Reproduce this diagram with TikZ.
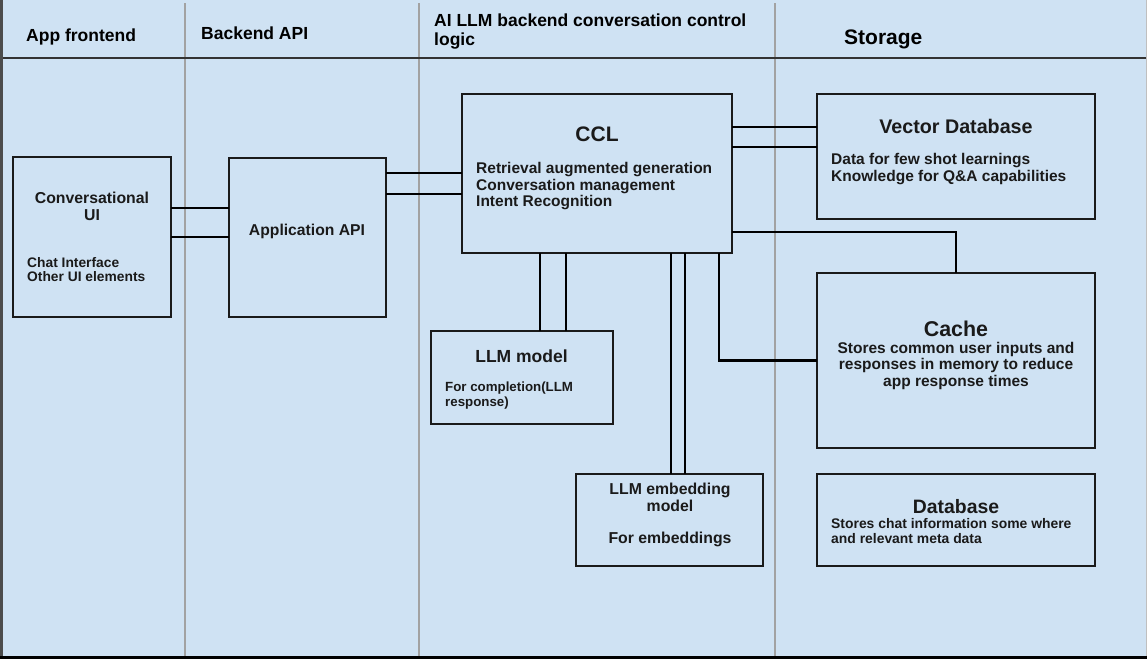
\documentclass[tikz,border=0pt]{standalone}
\usepackage{fontspec}
\setmainfont{Liberation Sans}
\usepackage{xcolor}
\usetikzlibrary{positioning,calc}
\definecolor{paper}{HTML}{CFE2F3}
\definecolor{lane}{HTML}{A2A2A2}
\definecolor{ink}{HTML}{1A1A1A}

\begin{document}
\begin{tikzpicture}[x=1pt, y=-1pt,
  box/.style={draw=ink, line width=1.3pt, fill=paper, inner sep=0pt, outer sep=0pt},
  wire/.style={draw=black, line width=2.4pt},
  hdr/.style={anchor=west, align=left, inner sep=0pt, text=black, font=\fontsize{17.5}{18.5}\selectfont\bfseries},
  ttl/.style={align=center, inner sep=0pt, text=ink},
  txt/.style={anchor=west, align=left, inner sep=0pt, text=ink}]
% page, lanes and header rule
\fill[paper] (0,0) rectangle (1147,659);
\useasboundingbox (0,0) rectangle (1147,659);
\foreach \x in {185,419,775} \draw[lane, line width=1.4pt] (\x,3) -- (\x,657);
\draw[black!80, line width=2pt] (3,58) -- (1147,58);
\draw[black!70, line width=3pt] (1.5,0) -- (1.5,659);
\draw[black!25, line width=1pt] (1146,0) -- (1146,659);
\draw[black, line width=3pt] (0,657.5) -- (1147,657.5);
% lane headers
\node[hdr] (hfront) at (26,37) {App frontend};
\node[hdr] (hback) at (201,33) {Backend API};
\node[hdr] (hllm) at (434,31.5) {AI LLM backend conversation control\\logic};
\node[hdr, font=\fontsize{21}{22}\selectfont\bfseries] (hstore) at (844,39) {Storage};
% boxes
\node[box, minimum width=158pt, minimum height=160pt] (ui) at (92,237) {};
\node[box, minimum width=157pt, minimum height=159pt] (app) at (307.5,237.5) {};
\node[box, minimum width=270pt, minimum height=159pt] (ccl) at (597,173.5) {};
\node[box, minimum width=278pt, minimum height=125pt] (vdb) at (956,156.5) {};
\node[box, minimum width=278pt, minimum height=175pt] (cache) at (956,360.5) {};
\node[box, minimum width=182pt, minimum height=93pt] (llm) at (522,377.5) {};
\node[box, minimum width=187pt, minimum height=92pt] (emb) at (669.5,520) {};
\node[box, minimum width=278pt, minimum height=92pt] (db) at (956,520) {};
% box texts
\node[ttl, font=\fontsize{15.8}{17}\selectfont\bfseries] (uiT) at (92,206.5) {Conversational\\UI};
\node[txt, font=\fontsize{13.8}{14}\selectfont\bfseries] (uiB) at (27,270) {Chat Interface\\Other UI elements};
\node[ttl, font=\fontsize{15.7}{17}\selectfont\bfseries] (appT) at (307,231) {Application API};
\node[ttl, font=\fontsize{21}{22}\selectfont\bfseries] (cclT) at (597,134) {CCL};
\node[txt, font=\fontsize{15.5}{16.5}\selectfont\bfseries] (cclB) at (476,186.5) {Retrieval augmented generation\\Conversation management\\Intent Recognition};
\node[ttl, font=\fontsize{19.7}{21}\selectfont\bfseries] (vdbT) at (956,126) {Vector Database};
\node[txt, font=\fontsize{15.5}{16.5}\selectfont\bfseries] (vdbB) at (831,169) {Data for few shot learnings\\Knowledge for Q\&A capabilities};
\node[ttl, font=\fontsize{21.4}{22}\selectfont\bfseries] (cacheT) at (956,329) {Cache};
\node[ttl, font=\fontsize{15.5}{16.5}\selectfont\bfseries] (cacheB) at (956,365.5) {Stores common user inputs and\\responses in memory to reduce\\app response times};
\node[ttl, font=\fontsize{17.5}{18}\selectfont\bfseries] (llmT) at (521.5,356) {LLM model};
\node[txt, font=\fontsize{13.3}{15}\selectfont\bfseries] (llmB) at (445,395.5) {For completion(LLM\\response)};
\node[ttl, font=\fontsize{15.8}{17}\selectfont\bfseries] (embT) at (670,497.5) {LLM embedding\\model};
\node[ttl, font=\fontsize{15.8}{17}\selectfont\bfseries] (embB) at (670,539) {For embeddings};
\node[ttl, font=\fontsize{19.4}{20}\selectfont\bfseries] (dbT) at (956,507) {Database};
\node[txt, font=\fontsize{13.9}{15}\selectfont\bfseries] (dbB) at (831,531.5) {Stores chat information some where\\and relevant meta data};
% connectors
\draw[wire] ([yshift=29pt]ui.east) -- ([yshift=29pt]ui.east -| app.west);
\draw[wire] (ui.east) -- (ui.east -| app.west);
\draw[wire] ([yshift=64.5pt]app.east) -- ([yshift=64.5pt]app.east -| ccl.west);
\draw[wire] ([yshift=43.5pt]app.east) -- ([yshift=43.5pt]app.east -| ccl.west);
\draw[wire] ([yshift=46.5pt]ccl.east) -- ([yshift=46.5pt]ccl.east -| vdb.west);
\draw[wire] ([yshift=26.5pt]ccl.east) -- ([yshift=26.5pt]ccl.east -| vdb.west);
\draw[wire] ([yshift=-58.5pt]ccl.east) -| (cache.north);
\draw[wire] ([xshift=122pt]ccl.south) |- (cache.west);
\draw[wire] ([xshift=18pt]llm.north) -- ([xshift=18pt]llm.north |- ccl.south);
\draw[wire] ([xshift=44pt]llm.north) -- ([xshift=44pt]llm.north |- ccl.south);
\draw[wire] ([xshift=1.5pt]emb.north) -- ([xshift=1.5pt]emb.north |- ccl.south);
\draw[wire] ([xshift=15.5pt]emb.north) -- ([xshift=15.5pt]emb.north |- ccl.south);
\end{tikzpicture}
\end{document}
